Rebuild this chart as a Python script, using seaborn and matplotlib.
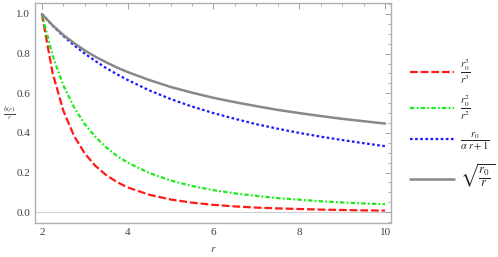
import numpy as np
import pandas as pd
import matplotlib
matplotlib.use("Agg")
import matplotlib.pyplot as plt
from matplotlib.ticker import MultipleLocator
import seaborn as sns

# values (r0 = 2)
r = [2, 2.25, 2.5, 2.75, 3, 3.25, 3.5, 3.75, 4, 4.5, 5, 5.5, 6, 6.5, 7, 7.5, 8, 8.5, 9, 9.5, 10]
cubic = [1.0, 0.702, 0.512, 0.385, 0.296, 0.233, 0.187, 0.152, 0.125, 0.088, 0.064, 0.048,
         0.037, 0.029, 0.023, 0.019, 0.016, 0.013, 0.011, 0.009, 0.008]
square = [1.0, 0.790, 0.640, 0.529, 0.444, 0.379, 0.327, 0.284, 0.250, 0.198, 0.160, 0.132,
          0.111, 0.095, 0.082, 0.071, 0.063, 0.055, 0.049, 0.044, 0.040]
ratio = [1.0, 0.941, 0.889, 0.842, 0.800, 0.762, 0.727, 0.696, 0.667, 0.615, 0.571, 0.533,
         0.500, 0.471, 0.444, 0.421, 0.400, 0.381, 0.364, 0.348, 0.333]
root = [1.0, 0.943, 0.894, 0.853, 0.816, 0.784, 0.756, 0.730, 0.707, 0.667, 0.632, 0.603,
        0.577, 0.555, 0.535, 0.516, 0.500, 0.485, 0.471, 0.459, 0.447]

labels = [r'$\dfrac{r_0^3}{r^3}$', r'$\dfrac{r_0^2}{r^2}$', r'$\dfrac{r_0}{\alpha\ r+1}$',
          r'$\sqrt{\frac{r_0}{r}}$']
colors = ['#ff1a1a', '#1aee1a', '#1a1aff', '#888888']
dashes = [(3.5, 1.3), (2, 1, 0.8, 1), (1.2, 1.1), None]
widths = [1.6, 1.6, 1.6, 1.8]

sns.set_style("white")
plt.rcParams['font.family'] = ['Liberation Serif', 'DejaVu Serif']
plt.rcParams['mathtext.fontset'] = 'stix'

fig = plt.figure(figsize=(4.98, 2.57), dpi=100)
ax = fig.add_axes([0.0703, 0.132, 0.715, 0.856])

df = pd.DataFrame({'r': r, 'c': cubic, 's': square, 'q': ratio, 't': root})
for col, lab, c, d, w in zip(['c', 's', 'q', 't'], labels, colors, dashes, widths):
    sns.lineplot(data=df, x='r', y=col, ax=ax, color=c, lw=w, label=lab)
    if d is not None:
        ax.lines[-1].set_dashes(d)

ax.axhline(0, color='#d0d0d0', lw=0.8, zorder=0)
ax.set_xlim(1.84, 10.14)
ax.set_ylim(-0.055, 1.055)
ax.xaxis.set_major_locator(MultipleLocator(2))
ax.xaxis.set_minor_locator(MultipleLocator(0.5))
ax.yaxis.set_major_locator(MultipleLocator(0.2))
ax.yaxis.set_minor_locator(MultipleLocator(0.05))
ax.set_yticklabels([f'{v:.1f}' for v in ax.get_yticks()])
ax.tick_params(which='both', direction='in', top=True, right=True, color='#909090',
               labelsize=8, labelcolor='#404040')
ax.tick_params(which='major', length=4, width=0.6)
ax.tick_params(which='minor', length=2, width=0.5)
for s in ax.spines.values():
    s.set_color('#b0b0b0')
    s.set_linewidth(1.0)
ax.set_xlabel(r'$r$', fontsize=8, color='#404040', labelpad=6)
ax.set_ylabel('')
fig.text(0.018, 0.56, r'$\frac{b(r)}{r}$', fontsize=7, color='#404040', ha='center', va='center')

leg = ax.legend(loc='center left', bbox_to_anchor=(0.805, 0.52), bbox_transform=fig.transFigure,
                frameon=False, fontsize=7.5, handlelength=4.2, labelspacing=0.8, handletextpad=0.6)
leg.get_texts()[3].set_fontsize(13)

fig.savefig('out.png', dpi=100)
